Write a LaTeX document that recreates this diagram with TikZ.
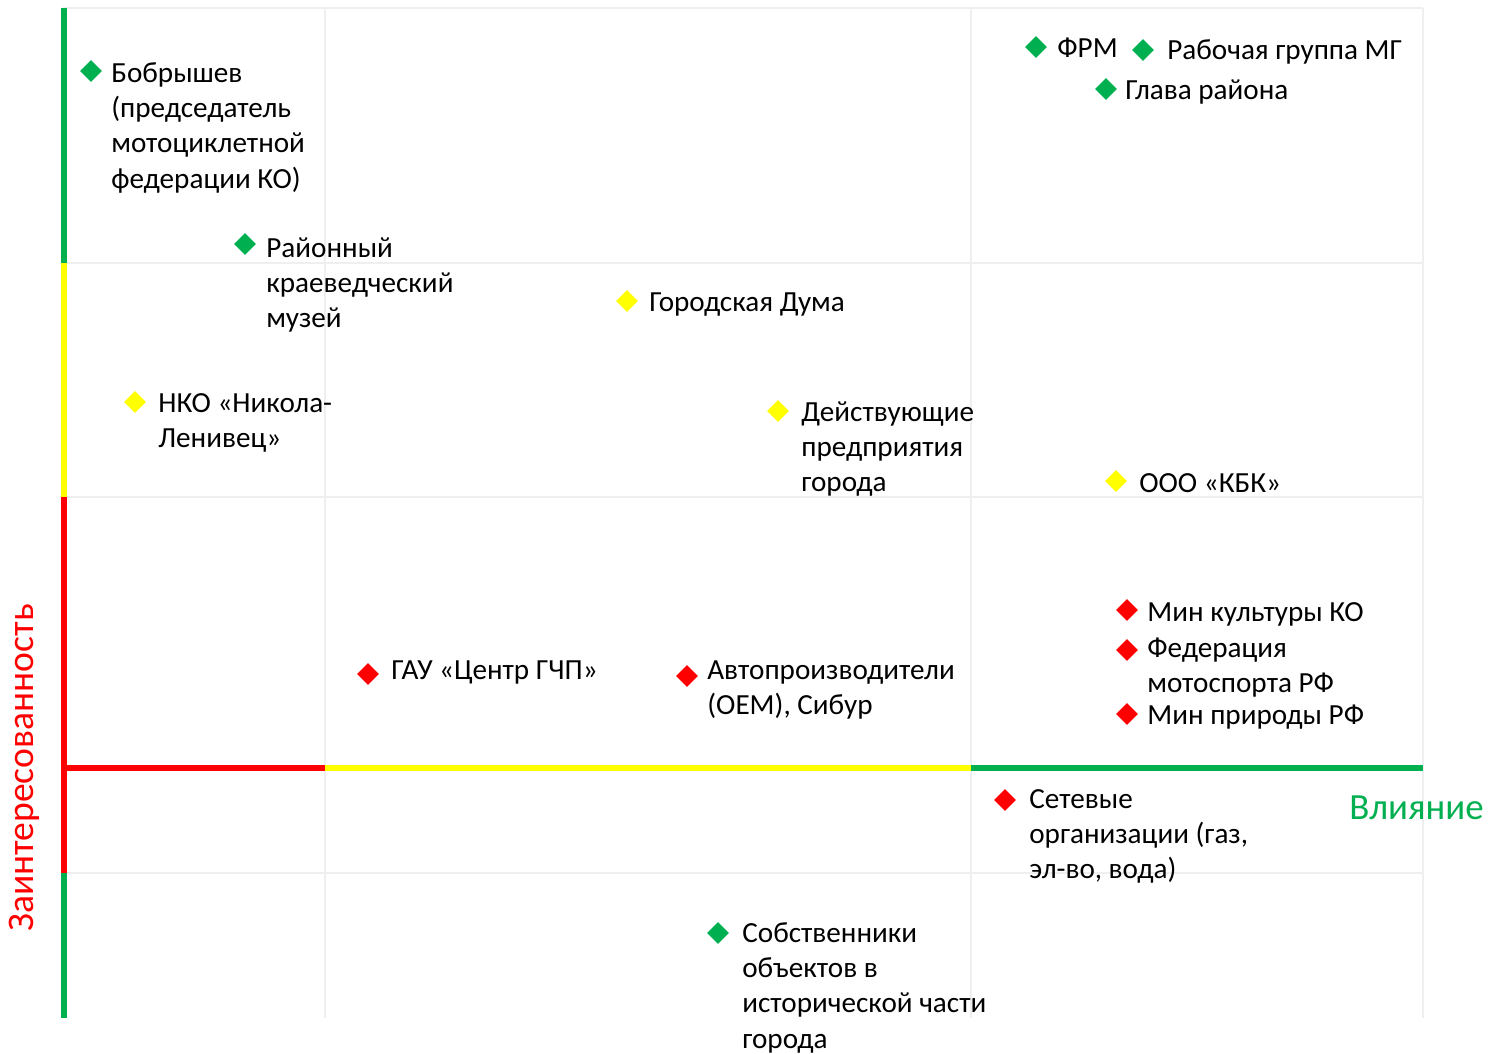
\documentclass[tikz,border=0pt]{standalone}
\usepackage{fontspec}
\setmainfont{Carlito}
\usepackage{tikz}
\usetikzlibrary{shapes,positioning,calc}
\definecolor{grn}{HTML}{00B050}
\definecolor{ylw}{HTML}{FFFF00}
\definecolor{rd}{HTML}{FF0000}
\definecolor{gridgray}{HTML}{EFEFEF}

\begin{document}
\begin{tikzpicture}[x=0.02cm,y=-0.02cm,
    gridline/.style={draw=gridgray,line width=1.2pt},
    axisline/.style={line width=3.4pt},
    dmark/.style={shape=diamond,fill=#1,inner sep=0,minimum size=0.44cm},
    stxt/.style={anchor=north west,align=left,inner sep=0,font=\fontsize{16.6}{20.1}\selectfont}]
    \useasboundingbox (0,0) rectangle (1489,1054);
    % light grid behind the map
    \foreach \gx in {325,971,1423}
    {
        \draw[gridline] (\gx,8) -- (\gx,1018);
    }
    \foreach \gy in {8,263,497,873}
    {
        \draw[gridline] (63,\gy) -- (1423,\gy);
    }
    % vertical axis, coloured by zone
    \draw[axisline,grn] (64,8) -- (64,263);
    \draw[axisline,ylw] (64,263) -- (64,497);
    \draw[axisline,rd] (64,497) -- (64,873);
    \draw[axisline,grn] (64,873) -- (64,1018);
    % horizontal axis, coloured by zone
    \draw[axisline,rd] (61,768) -- (325,768);
    \draw[axisline,ylw] (325,768) -- (971,768);
    \draw[axisline,grn] (971,768) -- (1423,768);
    % axis titles
    \node[rd,rotate=90,inner sep=0,font=\fontsize{21.4}{25}\selectfont] (ylab) at (24,768) {Заинтересованность};
    \node[grn,anchor=east,inner sep=0,font=\fontsize{21}{25}\selectfont] (xlab) at (1484,808) {Влияние};
    % stakeholders: marker position / colour / text position / text
    \foreach \mx/\my/\col/\tx/\ty/\txt [count=\i] in {
        91/71/grn/111/73/{Бобрышев\\(председатель\\мотоциклетной\\федерации КО)},
        245/244/grn/266/248/{Районный\\краеведческий\\музей},
        1036/47/grn/1057/48/{ФРМ},
        1143/50/grn/1167/50/{Рабочая группа МГ},
        1106/89/grn/1125/90/{Глава района},
        627/301/ylw/649/302/{Городская Дума},
        135/402/ylw/158/403/{НКО «Никола-\\Ленивец»},
        778/411/ylw/801/412/{Действующие\\предприятия\\города},
        1116/481/ylw/1139/483/{ООО «КБК»},
        1127/610/rd/1147/612/{Мин культуры КО},
        1127/650/rd/1147/648/{Федерация\\мотоспорта РФ},
        1127/714/rd/1147/715/{Мин природы РФ},
        368/674/rd/391/670/{ГАУ «Центр ГЧП»},
        687/676/rd/707/670/{Автопроизводители\\(OEM), Сибур},
        1005/800/rd/1029/799/{Сетевые\\организации (газ,\\эл-во, вода)},
        718/933/grn/742/933/{Собственники\\объектов в\\исторической части\\города}}
    {
        \node[dmark=\col] (m\i) at (\mx,\my) {};
        \node[stxt] (t\i) at (\tx,\ty-16) {\strut\txt};
    }
\end{tikzpicture}
\end{document}
